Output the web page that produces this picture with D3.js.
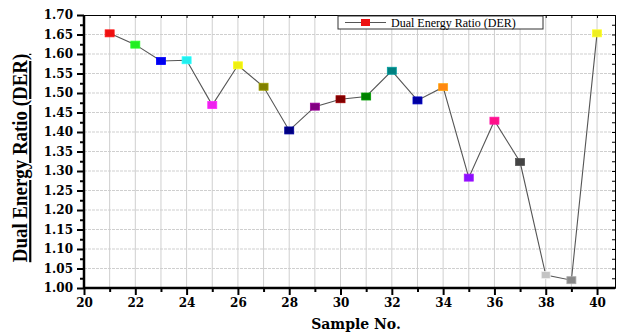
<!DOCTYPE html>
<html>
<head>
<meta charset="utf-8">
<script src="https://cdn.jsdelivr.net/npm/d3@7"></script>
<style>
  body { margin: 0; background: #fff; }
  .serif { font-family: "Liberation Serif", "Times New Roman", serif; }
  .wide { font-family: "DejaVu Serif", serif; }
</style>
</head>
<body>
<div id="chart"></div>
<script>
// sample numbers and their dual energy ratio values
var samples = [21, 22, 23, 24, 25, 26, 27, 28, 29, 30, 31, 32, 33, 34, 35, 36, 37, 38, 39, 40];
var derValues = [1.653, 1.624, 1.582, 1.584, 1.469, 1.571, 1.516, 1.404, 1.465, 1.484, 1.491, 1.557, 1.481, 1.515, 1.283, 1.429, 1.323, 1.033, 1.020, 1.653];
var markerColors = ["#ee1111", "#22ee22", "#0000ee", "#22eeee", "#ee22ee", "#eeee11", "#808000", "#000080",
                    "#800080", "#800000", "#008000", "#008080", "#0000a0", "#ff8811", "#8811ff", "#ff1188",
                    "#444444", "#c4c4c4", "#888888", "#eeee22"];
var xTicks = [20, 22, 24, 26, 28, 30, 32, 34, 36, 38, 40];
var yTicks = [1.00, 1.05, 1.10, 1.15, 1.20, 1.25, 1.30, 1.35, 1.40, 1.45, 1.50, 1.55, 1.60, 1.65, 1.70];

var margin = {top: 15, right: 5, bottom: 48, left: 84};
var width = 620, height = 336;
var plotW = width - margin.left - margin.right;
var plotH = height - margin.top - margin.bottom;

var svg = d3.select("#chart").append("svg")
    .attr("width", width)
    .attr("height", height);

var g = svg.append("g").attr("transform", "translate(" + margin.left + "," + margin.top + ")");

var x = d3.scaleLinear().domain([20, 40.7]).range([0, plotW]);
var y = d3.scaleLinear().domain([1.0, 1.7]).range([plotH, 0]);

// grid
g.append("g").selectAll("line")
    .data(d3.range(21, 41))
    .enter().append("line")
    .attr("x1", function(d){ return x(d); })
    .attr("x2", function(d){ return x(d); })
    .attr("y1", 0).attr("y2", plotH)
    .attr("stroke", "#cfcfcf").attr("stroke-width", 1);

g.append("g").selectAll("line")
    .data(yTicks.slice(1, -1))
    .enter().append("line")
    .attr("x1", 0).attr("x2", plotW)
    .attr("y1", function(d){ return y(d); })
    .attr("y2", function(d){ return y(d); })
    .attr("stroke", "#cfcfcf").attr("stroke-width", 1)
    .attr("stroke-dasharray", "3,1");

// top and right frame with small inward ticks
g.append("g")
    .call(d3.axisTop(x).tickValues(d3.range(20, 41)).tickSize(-3).tickFormat(""))
    .call(function(a){ a.select(".domain").attr("stroke-width", 1); });
g.append("g")
    .attr("transform", "translate(" + plotW + ",0)")
    .call(d3.axisRight(y).tickValues(d3.range(0, 29).map(function(i){ return 1 + i * 0.025; })).tickSize(-3).tickFormat(""))
    .call(function(a){ a.select(".domain").attr("stroke-width", 1); });

// bottom axis: major + minor
var xAxisG = g.append("g").attr("transform", "translate(0," + plotH + ")");
xAxisG.append("g")
    .call(d3.axisBottom(x).tickValues(d3.range(21, 41, 2)).tickSize(4).tickFormat(""))
    .call(function(a){ a.select(".domain").remove(); a.selectAll("line").attr("stroke-width", 2); });
xAxisG.append("g")
    .call(d3.axisBottom(x).tickValues(xTicks).tickSize(7).tickPadding(3).tickFormat(d3.format("d")))
    .call(function(a){
        a.attr("font-family", null).attr("font-size", null);
        a.select(".domain").attr("stroke-width", 2.5).attr("d", "M0,0H" + plotW);
        a.selectAll("line").attr("stroke-width", 2);
        a.selectAll("text").attr("class", "wide")
            .style("font-size", "12px").style("font-weight", "bold").attr("fill", "#000");
    });

// left axis: major + minor
var yAxisG = g.append("g");
yAxisG.append("g")
    .call(d3.axisLeft(y).tickValues(d3.range(0, 14).map(function(i){ return 1.025 + i * 0.05; })).tickSize(4).tickFormat(""))
    .call(function(a){ a.select(".domain").remove(); a.selectAll("line").attr("stroke-width", 2); });
yAxisG.append("g")
    .call(d3.axisLeft(y).tickValues(yTicks).tickSize(7).tickPadding(4).tickFormat(d3.format(".2f")))
    .call(function(a){
        a.attr("font-family", null).attr("font-size", null);
        a.select(".domain").attr("stroke-width", 2.5).attr("d", "M0,0V" + plotH);
        a.selectAll("line").attr("stroke-width", 2);
        a.selectAll("text").attr("class", "wide")
            .style("font-size", "12px").style("font-weight", "bold").attr("fill", "#000");
    });

// data line
var data = samples.map(function(s, i){ return {x: s, y: derValues[i], c: markerColors[i]}; });
var line = d3.line().x(function(d){ return x(d.x); }).y(function(d){ return y(d.y); });
g.append("path").datum(data)
    .attr("d", line)
    .attr("fill", "none")
    .attr("stroke", "#555")
    .attr("stroke-width", 1.1);

g.selectAll(".pt").data(data).enter().append("rect")
    .attr("class", "pt")
    .attr("x", function(d){ return x(d.x) - 4.5; })
    .attr("y", function(d){ return y(d.y) - 3.5; })
    .attr("width", 9).attr("height", 7)
    .attr("fill", function(d){ return d.c; })
    .attr("stroke", function(d){ return d3.color(d.c).brighter(0.6); })
    .attr("stroke-width", 0.8);

// legend
var leg = svg.append("g").attr("transform", "translate(338,16)");
leg.append("rect").attr("width", 205).attr("height", 13)
    .attr("fill", "#fff").attr("stroke", "#333").attr("stroke-width", 1);
leg.append("line").attr("x1", 7).attr("x2", 48).attr("y1", 6.5).attr("y2", 6.5)
    .attr("stroke", "#555").attr("stroke-width", 1.1);
leg.append("rect").attr("x", 23).attr("y", 3).attr("width", 9).attr("height", 7).attr("fill", markerColors[0]);
leg.append("text").attr("class", "serif").attr("x", 53).attr("y", 10.5)
    .style("font-size", "12px").text("Dual Energy Ratio (DER)");

// axis titles
svg.append("text")
    .attr("class", "serif")
    .attr("transform", "translate(27,158) rotate(-90) scale(0.86,1)")
    .attr("text-anchor", "middle")
    .style("font-size", "22px").style("font-weight", "bold")
    .style("text-decoration", "underline")
    .text("Dual Energy Ratio (DER)");

svg.append("text")
    .attr("class", "wide")
    .attr("x", 356).attr("y", 329)
    .attr("text-anchor", "middle")
    .style("font-size", "14px").style("font-weight", "bold")
    .text("Sample No.");
</script>
</body>
</html>
